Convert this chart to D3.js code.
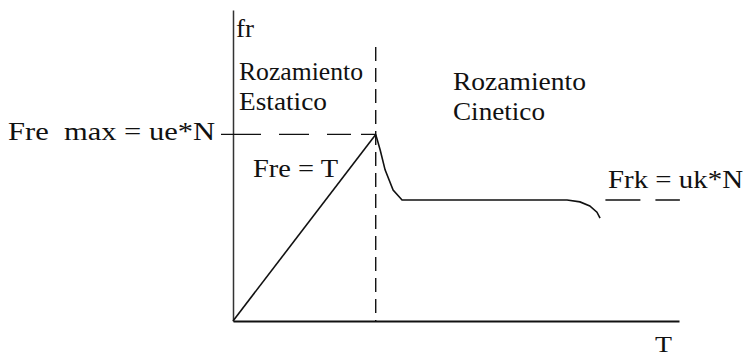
<!DOCTYPE html>
<html><head><meta charset="utf-8">
<script src="https://cdn.jsdelivr.net/npm/d3@7"></script>
<style>body{margin:0;background:#fff}svg{display:block}</style>
</head><body><svg id="c" width="746" height="358"></svg>
<script>
// Data (T, fr) in arbitrary units
const staticT = [0, 32];
const staticFr = [0, 60];
const kineticT = [32, 33, 34.1, 35.9, 37.9, 74.9, 77.8, 80, 81.6, 82.3];
const kineticFr = [60, 55, 48.6, 42.1, 38.9, 38.9, 38.3, 37, 35, 33.1];
const freMax = 60;
const frk = 38.9;
const tTransition = 32;
const frkDashT = [83.5, 100.2];
const yLabel = "fr", xLabel = "T";
const labels = ["Fre  max = ue*N", "Rozamiento", "Estatico", "Fre = T", "Rozamiento", "Cinetico", "Frk = uk*N"];

const FONT = "'Liberation Serif', 'DejaVu Serif', 'Times New Roman', serif";
const svg = d3.select("#c");
const x = d3.scaleLinear().domain([0, 100]).range([233, 679]);
const y = d3.scaleLinear().domain([0, 100]).range([321, 10]);

// axes
svg.append("g").attr("transform", `translate(${x(0)},0)`)
  .call(d3.axisLeft(y).ticks(0).tickSizeOuter(0))
  .call(g => g.select(".domain").attr("stroke", "#333").attr("stroke-width", 1.5));
svg.append("g").attr("transform", `translate(0,${y(0)})`)
  .call(d3.axisBottom(x).ticks(0).tickSizeOuter(0))
  .call(g => g.select(".domain").attr("stroke", "#111").attr("stroke-width", 2));

// Fre max dashed line with tick
svg.append("line").attr("x1", x(0) - 12).attr("x2", x(tTransition))
  .attr("y1", y(freMax)).attr("y2", y(freMax))
  .attr("stroke", "#111").attr("stroke-width", 1.4).attr("stroke-dasharray", "40,18,30,18,24,10,30");
// vertical dashed transition
svg.append("line").attr("x1", x(tTransition)).attr("x2", x(tTransition))
  .attr("y1", 47).attr("y2", y(0))
  .attr("stroke", "#111").attr("stroke-width", 1.4).attr("stroke-dasharray", "14,7");
// Frk dashes
svg.append("line").attr("x1", x(frkDashT[0])).attr("x2", x(frkDashT[1]))
  .attr("y1", y(frk)).attr("y2", y(frk))
  .attr("stroke", "#111").attr("stroke-width", 1.4).attr("stroke-dasharray", "35,15");

const line = d3.line().x(d => x(d[0])).y(d => y(d[1]));
svg.append("path").datum(staticT.map((t, i) => [t, staticFr[i]]))
  .attr("d", line).attr("fill", "none").attr("stroke", "#111").attr("stroke-width", 1.6);
svg.append("path").datum(kineticT.map((t, i) => [t, kineticFr[i]]))
  .attr("d", line).attr("fill", "none").attr("stroke", "#111").attr("stroke-width", 1.6);

function txt(s, px, py, len, fs) {
  const t = svg.append("text").attr("x", px).attr("y", py)
    .attr("font-family", FONT).attr("font-size", fs || 26).attr("fill", "#111")
    .attr("xml:space", "preserve").style("white-space", "pre").text(s);
  if (len) t.attr("textLength", len).attr("lengthAdjust", "spacingAndGlyphs");
}
txt(yLabel, 236, 37, 18);
txt(labels[1], 239, 80, 124);
txt(labels[2], 239, 110, 88);
txt(labels[0], 8, 140, 207);
txt(labels[3], 253, 177, 85);
txt(labels[4], 453, 90, 133);
txt(labels[5], 453, 120, 92);
txt(labels[6], 608, 188, 135);
txt(xLabel, 655, 352, 17, 24);
</script></body></html>
